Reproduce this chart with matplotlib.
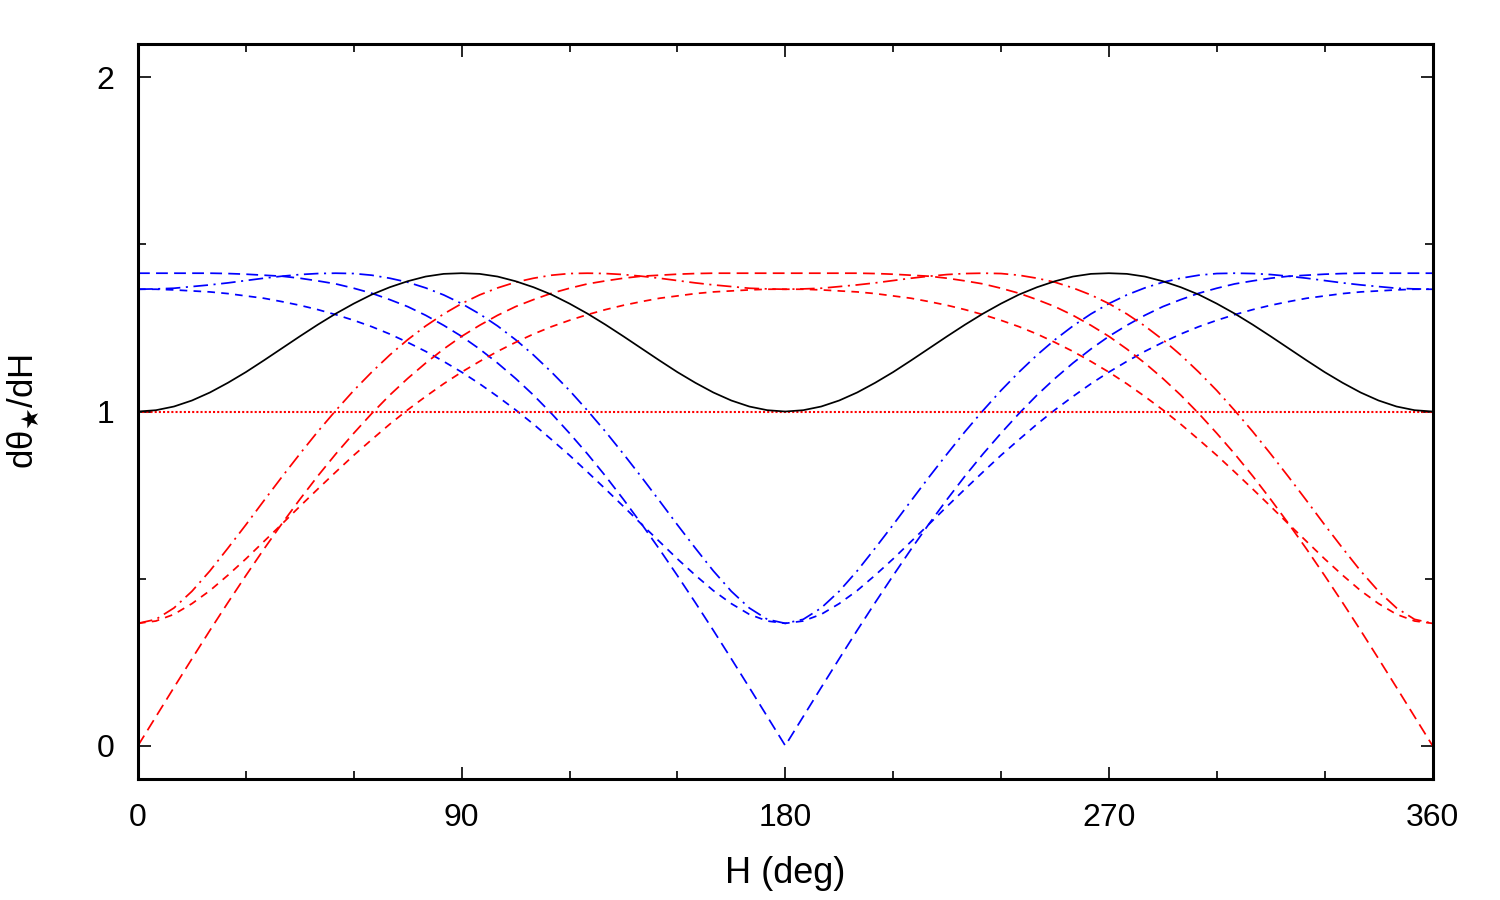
import matplotlib
matplotlib.use("Agg")
import matplotlib.pyplot as plt

plt.rcParams['font.family'] = ['Liberation Sans', 'DejaVu Sans']
plt.rcParams['mathtext.fontset'] = 'dejavusans'
plt.rcParams['lines.scale_dashes'] = False

# H grid (deg), every 5 degrees, and curve values
h_deg = list(range(0, 361, 5))

black_solid = [1.000, 1.004, 1.015, 1.033, 1.057, 1.086, 1.118, 1.153, 1.189, 1.225,
               1.260, 1.293, 1.323, 1.350, 1.372, 1.390, 1.404, 1.412, 1.414,
               1.412, 1.404, 1.390, 1.372, 1.350, 1.323, 1.293, 1.260, 1.225,
               1.189, 1.153, 1.118, 1.086, 1.057, 1.033, 1.015, 1.004, 1.000,
               1.004, 1.015, 1.033, 1.057, 1.086, 1.118, 1.153, 1.189, 1.225,
               1.260, 1.293, 1.323, 1.350, 1.372, 1.390, 1.404, 1.412, 1.414,
               1.412, 1.404, 1.390, 1.372, 1.350, 1.323, 1.293, 1.260, 1.225,
               1.189, 1.153, 1.118, 1.086, 1.057, 1.033, 1.015, 1.004, 1.000]

red_dotted = [1.0] * 73

blue_dash = [1.414, 1.414, 1.414, 1.414, 1.414, 1.413, 1.411, 1.408, 1.405, 1.399,
             1.391, 1.382, 1.369, 1.354, 1.335, 1.314, 1.288, 1.258, 1.225, 1.187,
             1.145, 1.099, 1.049, 0.994, 0.935, 0.873, 0.807, 0.737, 0.664, 0.588,
             0.509, 0.428, 0.345, 0.260, 0.174, 0.087, 0.000,
             0.087, 0.174, 0.260, 0.345, 0.428, 0.509, 0.588, 0.664, 0.737, 0.807,
             0.873, 0.935, 0.994, 1.049, 1.099, 1.145, 1.187, 1.225, 1.258, 1.288,
             1.314, 1.335, 1.354, 1.369, 1.382, 1.391, 1.399, 1.405, 1.408, 1.411,
             1.413, 1.414, 1.414, 1.414, 1.414, 1.414]

red_dash = [0.000, 0.087, 0.174, 0.260, 0.345, 0.428, 0.509, 0.588, 0.664, 0.737,
            0.807, 0.873, 0.935, 0.994, 1.049, 1.099, 1.145, 1.187, 1.225, 1.258,
            1.288, 1.314, 1.335, 1.354, 1.369, 1.382, 1.391, 1.399, 1.405, 1.408,
            1.411, 1.413, 1.414, 1.414, 1.414, 1.414, 1.414,
            1.414, 1.414, 1.414, 1.414, 1.413, 1.411, 1.408, 1.405, 1.399, 1.391,
            1.382, 1.369, 1.354, 1.335, 1.314, 1.288, 1.258, 1.225, 1.187, 1.145,
            1.099, 1.049, 0.994, 0.935, 0.873, 0.807, 0.737, 0.664, 0.588, 0.509,
            0.428, 0.345, 0.260, 0.174, 0.087, 0.000]

blue_dashdot = [1.366, 1.367, 1.369, 1.374, 1.379, 1.385, 1.392, 1.399, 1.405, 1.410,
                1.413, 1.414, 1.413, 1.408, 1.399, 1.387, 1.370, 1.349, 1.323, 1.292,
                1.256, 1.215, 1.169, 1.118, 1.063, 1.003, 0.940, 0.873, 0.804, 0.733,
                0.661, 0.591, 0.523, 0.462, 0.412, 0.378, 0.366,
                0.378, 0.412, 0.462, 0.523, 0.591, 0.661, 0.733, 0.804, 0.873, 0.940,
                1.003, 1.063, 1.118, 1.169, 1.215, 1.256, 1.292, 1.323, 1.349, 1.370,
                1.387, 1.399, 1.408, 1.413, 1.414, 1.413, 1.410, 1.405, 1.399, 1.392,
                1.385, 1.379, 1.374, 1.369, 1.367, 1.366]

red_dashdot = [0.366, 0.378, 0.412, 0.462, 0.523, 0.591, 0.661, 0.733, 0.804, 0.873,
               0.940, 1.003, 1.063, 1.118, 1.169, 1.215, 1.256, 1.292, 1.323, 1.349,
               1.370, 1.387, 1.399, 1.408, 1.413, 1.414, 1.413, 1.410, 1.405, 1.399,
               1.392, 1.385, 1.379, 1.374, 1.369, 1.367, 1.366,
               1.367, 1.369, 1.374, 1.379, 1.385, 1.392, 1.399, 1.405, 1.410, 1.413,
               1.414, 1.413, 1.408, 1.399, 1.387, 1.370, 1.349, 1.323, 1.292, 1.256,
               1.215, 1.169, 1.118, 1.063, 1.003, 0.940, 0.873, 0.804, 0.733, 0.661,
               0.591, 0.523, 0.462, 0.412, 0.378, 0.366]

blue_short = [1.366, 1.366, 1.364, 1.361, 1.358, 1.353, 1.346, 1.339, 1.329, 1.318,
              1.305, 1.290, 1.273, 1.254, 1.232, 1.207, 1.180, 1.150, 1.118, 1.083,
              1.045, 1.005, 0.962, 0.916, 0.869, 0.819, 0.768, 0.716, 0.663, 0.611,
              0.559, 0.510, 0.464, 0.425, 0.393, 0.373, 0.366,
              0.373, 0.393, 0.425, 0.464, 0.510, 0.559, 0.611, 0.663, 0.716, 0.768,
              0.819, 0.869, 0.916, 0.962, 1.005, 1.045, 1.083, 1.118, 1.150, 1.180,
              1.207, 1.232, 1.254, 1.273, 1.290, 1.305, 1.318, 1.329, 1.339, 1.346,
              1.353, 1.358, 1.361, 1.364, 1.366, 1.366]

red_short = [0.366, 0.373, 0.393, 0.425, 0.464, 0.510, 0.559, 0.611, 0.663, 0.716,
             0.768, 0.819, 0.869, 0.916, 0.962, 1.005, 1.045, 1.083, 1.118, 1.150,
             1.180, 1.207, 1.232, 1.254, 1.273, 1.290, 1.305, 1.318, 1.329, 1.339,
             1.346, 1.353, 1.358, 1.361, 1.364, 1.366, 1.366,
             1.366, 1.364, 1.361, 1.358, 1.353, 1.346, 1.339, 1.329, 1.318, 1.305,
             1.290, 1.273, 1.254, 1.232, 1.207, 1.180, 1.150, 1.118, 1.083, 1.045,
             1.005, 0.962, 0.916, 0.869, 0.819, 0.768, 0.716, 0.663, 0.611, 0.559,
             0.510, 0.464, 0.425, 0.393, 0.373, 0.366]

x_ticks = [0, 90, 180, 270, 360]
y_ticks = [0, 1, 2]

fig = plt.figure(figsize=(15, 9), dpi=100)
ax = fig.add_axes([0.092, 0.1344, 0.863, 0.8167])

lw = 1.25
long_dash = (0, (8.5, 4.5))
short_dash = (0, (5.5, 4.5))
dash_dot = (0, (10.5, 4.0, 1.5, 4.0))

ax.plot(h_deg, blue_dash, color='#0000ff', lw=lw, linestyle=long_dash)
ax.plot(h_deg, blue_dashdot, color='#0000ff', lw=lw, linestyle=dash_dot)
ax.plot(h_deg, blue_short, color='#0000ff', lw=lw, linestyle=short_dash)
ax.plot(h_deg, red_dash, color='#ff0000', lw=lw, linestyle=long_dash)
ax.plot(h_deg, red_dashdot, color='#ff0000', lw=lw, linestyle=dash_dot)
ax.plot(h_deg, red_short, color='#ff0000', lw=lw, linestyle=short_dash)
ax.plot(h_deg, red_dotted, color='#ff0000', lw=1.5, linestyle=(0, (1.5, 1.5)))
ax.plot(h_deg, black_solid, color='black', lw=lw)

ax.set_xlim(0, 360)
ax.set_ylim(-0.1, 2.1)
ax.set_xticks(x_ticks)
ax.set_xticks(range(30, 360, 30), minor=True)
ax.set_yticks(y_ticks)
ax.set_yticks([0.5, 1.5], minor=True)

ax.tick_params(which='both', direction='in', top=True, right=True, width=1.2)
ax.tick_params(which='major', length=9, labelsize=23, pad=17)
ax.tick_params(which='minor', length=5.5)

for s in ax.spines.values():
    s.set_linewidth(2.2)

ax.set_xlabel('H (deg)', fontsize=26, labelpad=17)
ax.set_ylabel('dθ$_{\\bigstar}$/dH', fontsize=25, labelpad=40)

fig.savefig('out.png', dpi=100)
